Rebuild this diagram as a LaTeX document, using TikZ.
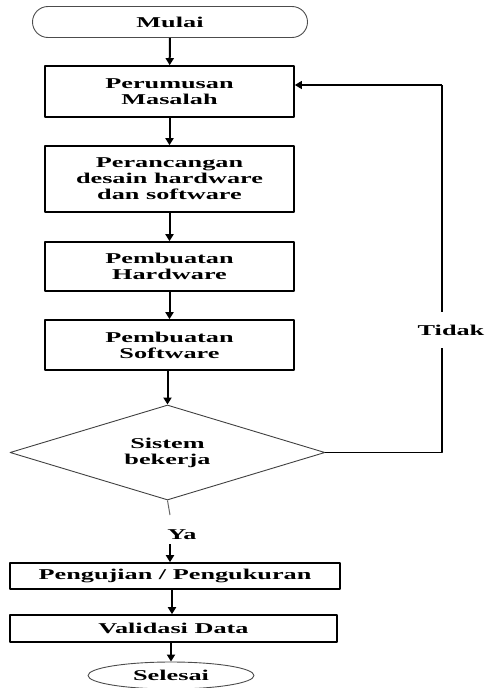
\documentclass[tikz,border=0pt]{standalone}
\usepackage{fontspec}
\setmainfont{Liberation Serif}[FakeStretch=1.75]
\usetikzlibrary{arrows.meta,shapes.geometric}

\begin{document}
\begin{tikzpicture}[x=1pt,y=-1pt,line join=round,font=\fontsize{15}{16}\selectfont\bfseries,
	proses/.style={draw,line width=1.6pt,inner sep=0pt,minimum width=249pt,align=center},
	terminal/.style={draw=black!70,line width=0.9pt,inner sep=0pt,align=center},
	alir/.style={line width=2pt,-{Triangle[length=7pt,width=8pt]}},
	garis/.style={line width=1.3pt}]
	\useasboundingbox (0,0) rectangle (486,688);
	\def\xk{442}
	\def\yk{85}
	% langkah utama
	\node[terminal,rounded corners=15.5pt,minimum width=275pt,minimum height=31pt] (mulai) at (170,22) {Mulai};
	\node[proses,minimum height=51pt] (rumus) at (169.5,91.5) {Perumusan\\Masalah};
	\node[proses,minimum height=66pt] (rancang) at (169.5,179) {Perancangan\\desain hardware\\dan software};
	\node[proses,minimum height=49pt] (hw) at (169.5,266.5) {Pembuatan\\Hardware};
	\node[proses,minimum height=50pt] (sw) at (169.5,345) {Pembuatan\\Software};
	\node[diamond,draw=black!75,line width=0.9pt,aspect=3.3,minimum width=315pt,minimum height=95pt,inner sep=0pt,align=center] (cek) at (167.5,452.5) {Sistem\\bekerja};
	\node[proses,minimum width=330pt,minimum height=26pt] (uji) at (175,576) {Pengujian / Pengukuran};
	\node[proses,minimum width=327pt,minimum height=27pt] (valid) at (173.5,628.5) {Validasi Data};
	\node[terminal,ellipse,minimum width=166pt,minimum height=27pt] (selesai) at (171,675.5) {Selesai};
	% panah
	\draw[alir] (mulai) -- (rumus);
	\draw[alir] (rumus) -- (rancang);
	\draw[alir] (rancang) -- (hw);
	\draw[alir] (hw) -- (sw);
	\draw[alir] (sw.south -| cek.north) -- (cek.north);
	\coordinate (yaatas) at (170,515);
	\coordinate (yabawah) at (170,544);
	\draw[line width=1pt,black!60] (cek.south) -- (yaatas);
	\node (ya) at (182,535) {Ya};
	\draw[alir] (yabawah) -- (yabawah |- uji.north);
	\draw[alir] (uji.south -| 172,0) -- (172,0 |- valid.north);
	\draw[alir] (valid.south -| 171,0) -- (selesai.north);
	% umpan balik
	\coordinate (balik) at (\xk,452.5);
	\draw[garis] (cek.east) -- (balik) -- (\xk,\yk);
	\draw[alir,line width=1.3pt] (\xk,\yk) -- (rumus.east |- 0,\yk);
	\node[fill=white,minimum height=36pt,inner sep=0pt] (tidak) at (451,330) {Tidak};
\end{tikzpicture}
\end{document}
